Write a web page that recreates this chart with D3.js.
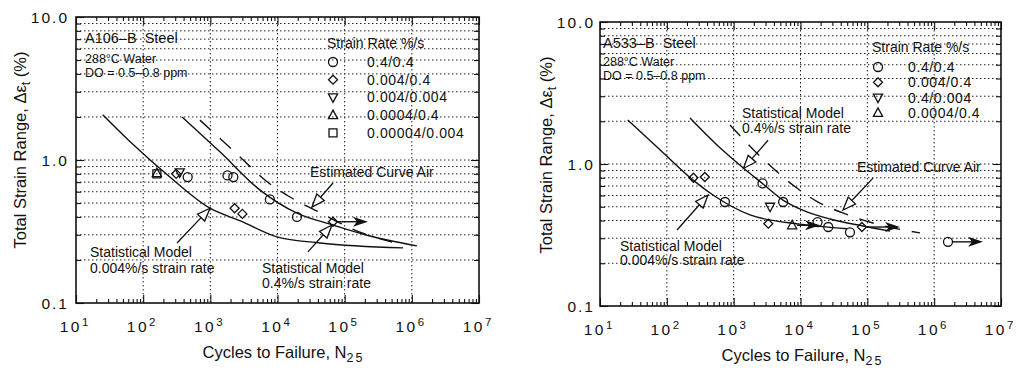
<!DOCTYPE html>
<html>
<head>
<meta charset="utf-8">
<title>Strain-life data, A106-B and A533-B in 288C water</title>
<script src="https://d3js.org/d3.v7.min.js"></script>
<style>
  body { margin: 0; background: #fff; }
  svg text { font-family: "Liberation Sans", Arial, Helvetica, sans-serif; fill: #111; }
</style>
</head>
<body>
<svg width="1023" height="371"></svg>
<script>
// ---- values ----
const xExponents = [1, 2, 3, 4, 5, 6, 7];
const yTickValues = [0.1, 1, 10];
const yTickLabels = ["0.1", "1.0", "10.0"];

// A106-B steel  [cycles, strain range %]
const a106Circle   = [[460, 0.76], [1800, 0.78], [2200, 0.76], [7700, 0.53], [19500, 0.40]];
const a106Diamond  = [[310, 0.80], [2300, 0.46], [3000, 0.42], [67000, 0.37]];
const a106TriDown  = [[350, 0.82]];
const a106TriUp    = [[160, 0.81]];
const a106Square   = [[160, 0.80]];
const a106Runout   = [[67000, 0.37, 222000]];
const a106Model004 = [[25, 2.07], [64, 1.34], [250, 0.76], [990, 0.46], [2800, 0.375], [9800, 0.29], [43000, 0.263], [740000, 0.243]];
const a106Model04  = [[380, 2.0], [1390, 1.14], [5500, 0.616], [19500, 0.425], [67000, 0.351], [238000, 0.294], [1190000, 0.251]];
const a106Air      = [[700, 1.9], [2770, 1.05], [6500, 0.724], [15300, 0.551], [36000, 0.447], [181000, 0.309], [507000, 0.267]];
const a106Rates    = ["0.4/0.4", "0.004/0.4", "0.004/0.004", "0.0004/0.4", "0.00004/0.004"];

// A533-B steel
const a533Circle   = [[740, 0.54], [2700, 0.73], [5500, 0.54], [18000, 0.39], [26000, 0.36], [55000, 0.33], [1610000, 0.283]];
const a533Diamond  = [[250, 0.80], [370, 0.81], [3300, 0.38], [83000, 0.36]];
const a533TriDown  = [[3500, 0.50]];
const a533TriUp    = [[7500, 0.37]];
const a533Runout   = [[7500, 0.37, 19600], [83000, 0.36, 308000], [1610000, 0.283, 5380000]];
const a533Model004 = [[26, 2.04], [79, 1.26], [247, 0.77], [490, 0.605], [1760, 0.438], [9800, 0.377], [50000, 0.35]];
const a533Model04  = [[222, 2.11], [625, 1.30], [1380, 0.94], [2750, 0.723], [5470, 0.557], [11700, 0.466], [27700, 0.41], [86000, 0.366], [218000, 0.337]];
const a533Air      = [[880, 1.88], [3150, 1.02], [7700, 0.711], [18300, 0.539], [43000, 0.452], [155000, 0.372], [614000, 0.327]];
const a533Rates    = ["0.4/0.4", "0.004/0.4", "0.4/0.004", "0.0004/0.4"];

const svg = d3.select("svg");

function minorValues() {
  const out = [];
  [0.1, 1].forEach(d => { for (let k = 2; k <= 9; k++) out.push(+(k * d).toFixed(2)); });
  return out;
}

// marker shapes
function symPath(type) {
  const r = 4.5;
  if (type === "circle") return d3.symbol(d3.symbolCircle, Math.PI * r * r)();
  if (type === "square") return `M-4,-4H4V4H-4Z`;
  if (type === "diamond") return `M0,-4.5L4.5,0L0,4.5L-4.5,0Z`;
  if (type === "triUp") return `M0,-5L4.6,3.5L-4.6,3.5Z`;
  if (type === "triDown") return `M0,5L4.6,-3.5L-4.6,-3.5Z`;
}

function openArrow(g, x0, y0, x1, y1) {
  const dx = x1 - x0, dy = y1 - y0, len = Math.hypot(dx, dy);
  const ux = dx / len, uy = dy / len, nx = -uy, ny = ux;
  const L = 13, Wd = 5;
  g.append("line").attr("x1", x0).attr("y1", y0).attr("x2", x1 - ux * L).attr("y2", y1 - uy * L)
    .attr("stroke", "#111").attr("stroke-width", 1.3);
  g.append("path")
    .attr("d", `M${x1},${y1}L${x1 - ux * L + nx * Wd},${y1 - uy * L + ny * Wd}L${x1 - ux * L - nx * Wd},${y1 - uy * L - ny * Wd}Z`)
    .attr("fill", "#fff").attr("stroke", "#111").attr("stroke-width", 1.3);
}

function drawPanel(p) {
  const g = svg.append("g").attr("transform", `translate(${p.left},${p.top})`);
  const x = d3.scaleLog().domain([10, 1e7]).range([0, p.width]);
  const y = d3.scaleLog().domain([0.1, 10]).range([p.height, 0]);
  const minors = minorValues();

  // dotted grid
  g.append("g").selectAll("line").data(minors.concat([1])).join("line")
    .attr("x1", 0).attr("x2", p.width).attr("y1", d => y(d)).attr("y2", d => y(d))
    .attr("stroke", "#222").attr("stroke-width", 1).attr("stroke-dasharray", "1.5,2.5");
  g.append("g").selectAll("line").data(xExponents.slice(1, -1).map(e => Math.pow(10, e))).join("line")
    .attr("x1", d => x(d)).attr("x2", d => x(d)).attr("y1", 0).attr("y2", p.height)
    .attr("stroke", "#222").attr("stroke-width", 1).attr("stroke-dasharray", "1.5,2.5");

  // inward ticks on all four sides
  const xMinor = [];
  xExponents.slice(0, -1).forEach(e => { for (let k = 2; k <= 9; k++) xMinor.push(k * Math.pow(10, e)); });
  const xMajor = xExponents.map(e => Math.pow(10, e));
  const tickSet = (axis, vals, size, tr) => {
    const a = g.append("g").attr("transform", tr).call(axis.tickValues(vals).tickSize(size).tickSizeOuter(0).tickFormat(""));
    a.select(".domain").remove();
    a.selectAll("line").attr("stroke", "#111").attr("stroke-width", 1.1);
    return a;
  };
  tickSet(d3.axisBottom(x), xMinor, -4, `translate(0,${p.height})`);
  tickSet(d3.axisBottom(x), xMajor, -8, `translate(0,${p.height})`);
  tickSet(d3.axisTop(x), xMinor, -4, "translate(0,0)");
  tickSet(d3.axisTop(x), xMajor, -8, "translate(0,0)");
  tickSet(d3.axisLeft(y), minors, -5, "translate(0,0)");
  tickSet(d3.axisLeft(y), yTickValues, -8, "translate(0,0)");
  tickSet(d3.axisRight(y), minors, -5, `translate(${p.width},0)`);
  tickSet(d3.axisRight(y), yTickValues, -8, `translate(${p.width},0)`);

  // frame
  g.append("rect").attr("width", p.width).attr("height", p.height)
    .attr("fill", "none").attr("stroke", "#111").attr("stroke-width", 1.6);

  // tick labels
  g.append("g").selectAll("text").data(yTickValues).join("text")
    .attr("x", -p.yLabelGap).attr("y", d => y(d)).attr("dy", "0.36em")
    .attr("text-anchor", "end").attr("font-size", 15.5).attr("letter-spacing", 2)
    .text((d, i) => yTickLabels[i]);
  const xl = g.append("g").selectAll("text").data(xExponents).join("text")
    .attr("x", d => x(Math.pow(10, d)) - 2).attr("y", p.height + 29)
    .attr("text-anchor", "middle").attr("font-size", 15.5);
  xl.append("tspan").attr("letter-spacing", 2.5).text("10");
  xl.append("tspan").attr("font-size", 11.5).attr("dy", -6).text(d => d);

  // axis titles
  const xt = g.append("text").attr("x", p.width / 2 + p.xTitleShift).attr("y", p.height + 55)
    .attr("text-anchor", "middle").attr("font-size", 16.5);
  xt.append("tspan").text("Cycles to Failure, N");
  xt.append("tspan").attr("font-size", 12.5).attr("dy", 4).attr("letter-spacing", 2).text("25");
  const yt = g.append("text")
    .attr("transform", `translate(${p.yTitleX},${p.height / 2 + p.yTitleShift}) rotate(-90)`)
    .attr("text-anchor", "middle").attr("font-size", 16.5);
  yt.append("tspan").text("Total Strain Range, \u0394\u03B5");
  yt.append("tspan").attr("font-size", 12.5).attr("dy", 4).text("t");
  yt.append("tspan").attr("dy", -4).text(" (%)");

  // curves
  const line = d3.line().x(d => x(d[0])).y(d => y(d[1])).curve(d3.curveMonotoneX);
  [p.model004, p.model04].forEach(c => g.append("path").attr("d", line(c))
    .attr("fill", "none").attr("stroke", "#111").attr("stroke-width", 1.4));
  g.append("path").attr("d", line(p.air)).attr("fill", "none").attr("stroke", "#111")
    .attr("stroke-width", 1.4).attr("stroke-dasharray", "15,12");

  // runout arrows
  p.runout.forEach(r => {
    const x0 = x(r[0]) + 5, x1 = x(r[2]), yy = y(r[1]);
    g.append("line").attr("x1", x0).attr("x2", x1 - 10).attr("y1", yy).attr("y2", yy)
      .attr("stroke", "#111").attr("stroke-width", 1.4);
    g.append("path").attr("d", `M${x1},${yy}L${x1 - 15},${yy - 5}L${x1 - 11},${yy}L${x1 - 15},${yy + 5}Z`)
      .attr("fill", "#111");
  });

  // markers
  p.markers.forEach(m => {
    g.append("g").selectAll("path").data(m.data).join("path")
      .attr("transform", d => `translate(${x(d[0])},${y(d[1])})`)
      .attr("d", symPath(m.type)).attr("fill", "none").attr("stroke", "#111").attr("stroke-width", 1.3);
  });

  // header text
  const hdr = g.append("g").attr("font-size", 12.5);
  hdr.append("text").attr("x", p.head[0]).attr("y", p.head[1]).attr("font-size", 14.5).text(p.steel);
  hdr.append("text").attr("x", p.head[0]).attr("y", p.head[2]).text("288\u00B0C Water");
  hdr.append("text").attr("x", p.head[0]).attr("y", p.head[3]).text("DO = 0.5\u20130.8 ppm");

  // legend
  const lg = g.append("g").attr("transform", `translate(${p.legend[0]},${p.legend[1]})`);
  lg.append("text").attr("x", 0).attr("y", 0).attr("font-size", 14).text("Strain Rate %/s");
  p.rates.forEach((lab, i) => {
    const yy = p.legend[2] + i * p.legend[3];
    lg.append("path").attr("transform", `translate(6,${yy})`).attr("d", symPath(p.markers[i].type))
      .attr("fill", "none").attr("stroke", "#111").attr("stroke-width", 1.3);
    lg.append("text").attr("x", p.legend[4]).attr("y", yy + 5).attr("font-size", 14).attr("letter-spacing", 0.6).text(lab);
  });

  // annotations
  p.notes.forEach(n => {
    const t = g.append("text").attr("x", n.at[0]).attr("y", n.at[1]).attr("font-size", 14);
    n.lines.forEach((s, i) => t.append("tspan").attr("x", n.at[0]).attr("dy", i ? n.lh : 0).text(s));
    if (n.arrow) openArrow(g, x(n.arrow[0][0]), y(n.arrow[0][1]), x(n.arrow[1][0]), y(n.arrow[1][1]));
  });
}

drawPanel({
  left: 76, top: 17, width: 403, height: 286,
  yLabelGap: 7, xTitleShift: 6, yTitleX: -50, yTitleShift: -10,
  steel: "A106\u2013B\u00A0\u00A0Steel", head: [9, 26, 46, 60],
  legend: [251, 31, 14, 17.7, 40], rates: a106Rates,
  model004: a106Model004, model04: a106Model04, air: a106Air, runout: a106Runout,
  markers: [
    {type: "circle", data: a106Circle}, {type: "diamond", data: a106Diamond},
    {type: "triDown", data: a106TriDown}, {type: "triUp", data: a106TriUp},
    {type: "square", data: a106Square}
  ],
  notes: [
    {lines: ["Estimated Curve Air"], at: [234, 160], lh: 0, arrow: [[67000, 0.69], [32600, 0.469]]},
    {lines: ["Statistical Model", "0.004%/s strain rate"], at: [14, 240], lh: 16, arrow: [[319, 0.263], [990, 0.46]]},
    {lines: ["Statistical Model", "0.4%/s strain rate"], at: [186, 256], lh: 15, arrow: [[28400, 0.228], [64700, 0.351]]}
  ]
});

drawPanel({
  left: 600, top: 22, width: 401, height: 284,
  yLabelGap: 5, xTitleShift: 2, yTitleX: -48, yTitleShift: -9,
  steel: "A533\u2013B\u00A0\u00A0Steel", head: [3, 26, 44, 58],
  legend: [272, 30, 15, 15.3, 36], rates: a533Rates,
  model004: a533Model004, model04: a533Model04, air: a533Air, runout: a533Runout,
  markers: [
    {type: "circle", data: a533Circle}, {type: "diamond", data: a533Diamond},
    {type: "triDown", data: a533TriDown}, {type: "triUp", data: a533TriUp}
  ],
  notes: [
    {lines: ["Statistical Model", "0.4%/s strain rate"], at: [142, 96], lh: 15, arrow: [[3270, 1.47], [1400, 0.93]]},
    {lines: ["Estimated Curve Air"], at: [257, 150], lh: 0, arrow: [[121600, 0.796], [43200, 0.474]]},
    {lines: ["Statistical Model", "0.004%/s strain rate"], at: [20, 229], lh: 14, arrow: [[142, 0.343], [413, 0.605]]}
  ]
});
</script>
</body>
</html>
